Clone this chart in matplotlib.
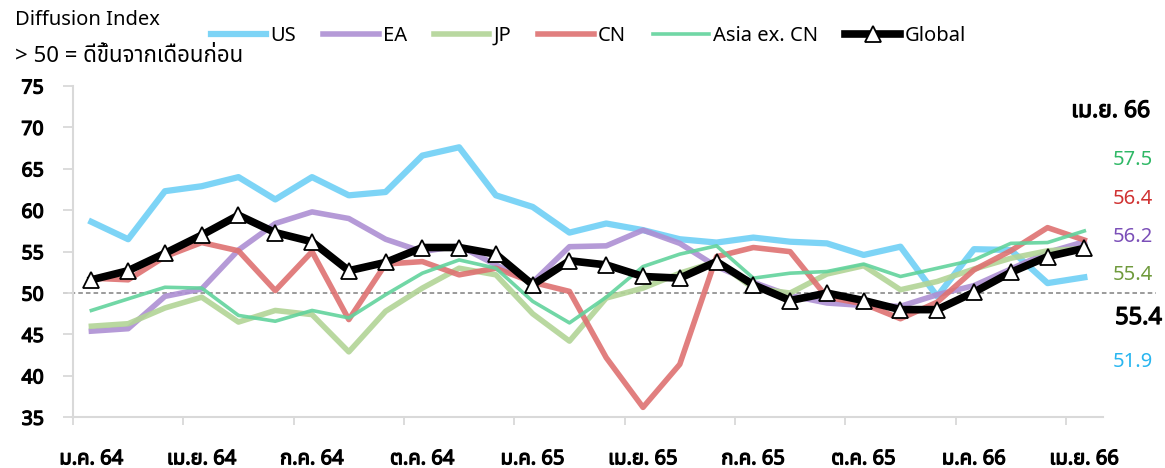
import numpy as np
import matplotlib
matplotlib.use('Agg')
import matplotlib.pyplot as plt
import matplotlib.patheffects as pe
from matplotlib import font_manager
from matplotlib.ft2font import FT2Font

# ---------------- data: monthly diffusion index, Jan 2021 (ม.ค. 64) .. Apr 2023 (เม.ย. 66) ----------------
tick_labels = ['ม.ค. 64', 'เม.ย. 64', 'ก.ค. 64', 'ต.ค. 64', 'ม.ค. 65',
               'เม.ย. 65', 'ก.ค. 65', 'ต.ค. 65', 'ม.ค. 66', 'เม.ย. 66']

us = [58.6, 56.5, 62.3, 62.9, 64.0, 61.3, 64.0, 61.8, 62.2, 66.6, 67.6, 61.8, 60.4, 57.3,
      58.4, 57.6, 56.5, 56.1, 56.7, 56.2, 56.0, 54.6, 55.6, 49.6, 55.3, 55.2, 51.2, 51.9]
ea = [45.4, 45.7, 49.6, 50.5, 55.2, 58.4, 59.8, 59.0, 56.5, 55.0, 55.7, 53.4, 51.3, 55.6,
      55.7, 57.6, 56.0, 53.2, 51.3, 49.7, 48.8, 48.5, 48.4, 49.8, 50.9, 52.9, 54.9, 56.2]
jp = [46.0, 46.3, 48.2, 49.5, 46.5, 47.9, 47.4, 42.9, 47.8, 50.6, 53.0, 52.2, 47.5, 44.2,
      49.4, 50.6, 52.4, 53.8, 50.6, 50.0, 52.3, 53.3, 50.4, 51.4, 52.9, 54.2, 55.1, 55.4]
cn = [51.8, 51.6, 54.4, 56.1, 55.1, 50.3, 55.0, 46.8, 53.5, 53.8, 52.2, 53.0, 51.3, 50.2,
      42.2, 36.2, 41.4, 54.4, 55.5, 55.0, 49.5, 48.7, 46.9, 48.9, 52.8, 55.1, 57.9, 56.4]
asia = [47.9, 49.3, 50.7, 50.6, 47.3, 46.6, 47.9, 47.0, 49.8, 52.4, 54.0, 53.0, 49.0, 46.4,
        49.5, 53.2, 54.7, 55.7, 51.8, 52.4, 52.6, 53.5, 52.0, 53.0, 54.0, 56.0, 56.1, 57.5]
glob = [51.6, 52.7, 54.8, 57.0, 59.4, 57.3, 56.2, 52.7, 53.7, 55.5, 55.5, 54.7, 51.0, 53.9,
        53.4, 52.0, 51.8, 53.8, 51.0, 49.1, 50.0, 49.1, 48.0, 48.0, 50.1, 52.5, 54.4, 55.4]

series = [('US', us, '#6fd0f6', '#29b6f0', 4.5),
          ('EA', ea, '#ad8fd3', '#7b4fb8', 4.0),
          ('JP', jp, '#b2d496', '#6f9a3c', 4.0),
          ('CN', cn, '#de7171', '#d03232', 4.0),
          ('Asia ex. CN', asia, '#62d39c', '#2fb866', 2.6)]


# ---------------- font with Thai glyphs ----------------
def pick_thai_font():
    found = []
    for f in font_manager.fontManager.ttflist:
        try:
            if ord('ด') in FT2Font(f.fname).get_charmap():
                found.append(f.name)
        except Exception:
            pass
    for pref in ['Tahoma', 'Leelawadee UI', 'Leelawadee', 'Noto Sans Thai', 'Noto Sans Thai UI',
                 'Sarabun', 'Loma', 'Garuda', 'Norasi', 'Umpush', 'Waree', 'Kinnari']:
        if pref in found:
            return pref
    return found[0] if found else 'DejaVu Sans'


thai = pick_thai_font()
has_bold = any(f.name == thai and f.weight in (600, 700, 800, 'bold')
               for f in font_manager.fontManager.ttflist)
plt.rcParams['font.family'] = [thai, 'DejaVu Sans']


def make_bold(t):
    t.set_fontweight('bold')
    if not has_bold:
        t.set_path_effects([pe.withStroke(linewidth=0.9, foreground=t.get_color())])


W, H = 1165, 468
fig = plt.figure(figsize=(W / 100, H / 100), dpi=100)
ax = fig.add_axes([73 / W, 1 - 417.3 / H, (1102.7 - 73) / W, (417.3 - 86) / H])

x = np.arange(len(glob))
handles = []
for name, vals, col, _, lw in series:
    h, = ax.plot(x, vals, color=col, lw=lw, alpha=0.9, label=name)
    handles.append(h)
hg, = ax.plot(x, glob, color='black', lw=5.5, marker='^', markersize=11.5,
              markerfacecolor='white', markeredgecolor='black', markeredgewidth=1.3,
              label='Global', zorder=5)
handles.append(hg)

# 50 threshold line, runs slightly past both ends of the axis
ax.plot([-0.77, 28.95], [50, 50], ls=(0, (3, 2)), color='#808080', lw=1.1,
        clip_on=False, zorder=1)

ax.set_xlim(-0.5, 27.5)
ax.set_ylim(35, 75)
ax.set_yticks(np.arange(35, 76, 5))
ax.set_xticks(x[::3])
ax.set_xticklabels(tick_labels, fontsize=14.5)
ax.set_xticks(np.arange(-0.5, 27, 3), minor=True)
ax.tick_params(axis='x', which='major', length=0, pad=23)
ax.tick_params(axis='x', which='minor', length=6, color='#d9d9d9', width=1.3)
ax.tick_params(axis='y', length=7, color='#d9d9d9', width=1.3, pad=14, labelsize=14)
for lab in ax.get_yticklabels() + ax.get_xticklabels():
    make_bold(lab)
for s in ['top', 'right']:
    ax.spines[s].set_visible(False)
for s in ['left', 'bottom']:
    ax.spines[s].set_color('#d9d9d9')
    ax.spines[s].set_linewidth(1.5)

# titles at top left
fig.text(15 / W, 1 - 20 / H, 'Diffusion Index', fontsize=14.5, va='center', ha='left')
fig.text(15 / W, 1 - 57 / H, '> 50 = ดีขึ้นจากเดือนก่อน', fontsize=16, va='center', ha='left')

fig.legend(handles=handles, loc='center left', bbox_to_anchor=(211 / W, 1 - 36 / H),
           ncol=6, frameon=False, fontsize=14.5, handlelength=2.75, handletextpad=0.2,
           columnspacing=1.35, borderpad=0, borderaxespad=0)

# latest readings listed on the right, sorted high to low
make_bold(fig.text(1150 / W, 1 - 111 / H, 'เม.ย. 66', fontsize=16.5,
                   ha='right', va='center'))
latest = [(vals[-1], tc, False) for _, vals, _, tc, _ in series] + [(glob[-1], 'black', True)]
latest.sort(key=lambda t: (-t[0], t[2]))
ys = [160, 199, 237, 275, 318, 362]
for (v, c, bold), yy in zip(latest, ys):
    t = fig.text((1162 if bold else 1153) / W, 1 - yy / H, f'{v:.1f}', color=c,
                 ha='right', va='center', fontsize=17 if bold else 14.5)
    if bold:
        make_bold(t)

fig.savefig('out.png', dpi=100)
